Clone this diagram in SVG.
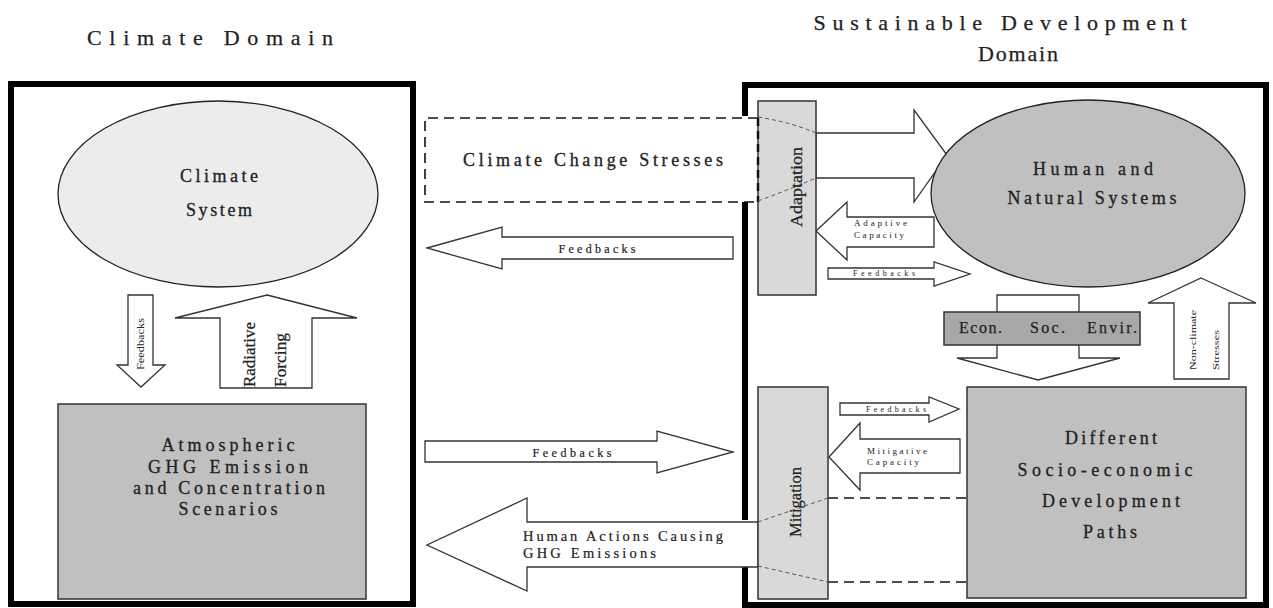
<svg xmlns="http://www.w3.org/2000/svg" width="1273" height="608" viewBox="0 0 1273 608">
<style>
text{font-family:"Liberation Serif","Times New Roman",serif;fill:#222}
.t22{font-size:22px;stroke:#222;stroke-width:0.25}.t18{font-size:18px;stroke:#222;stroke-width:0.3}.t16{font-size:16px;stroke:#222;stroke-width:0.25}.t14{font-size:14.5px;stroke:#222;stroke-width:0.2}.t12{font-size:12px;stroke:#222;stroke-width:0.2}.t11{font-size:11px}.t9{font-size:9px}.t8{font-size:8px}
.frame{fill:none;stroke:#000;stroke-width:6}
.arrow{fill:#fff;stroke:#333;stroke-width:1.3;stroke-linejoin:miter}
.box{stroke:#333;stroke-width:1.5}
.light{fill:#ececec}.mid{fill:#c0c0c0}.pale{fill:#d9d9d9}.dark{fill:#a8a8a8}
.dash{fill:none;stroke:#111;stroke-width:1.6;stroke-dasharray:10 6}
.gdash{fill:none;stroke:#555;stroke-width:1;stroke-dasharray:4 3}
</style>
<rect width="1273" height="608" fill="#fff"/>
<g id="titles">
<text class="t22" x="210" y="45" text-anchor="middle" textLength="246" lengthAdjust="spacing">Climate Domain</text>
<text class="t22" x="1000" y="30" text-anchor="middle" textLength="373" lengthAdjust="spacing">Sustainable Development</text>
<text class="t22" x="1018" y="61" text-anchor="middle" textLength="80" lengthAdjust="spacing">Domain</text>
</g>
<g id="climate-domain-frame">
<rect class="frame" x="11" y="84" width="402" height="520"/>
</g>
<g id="sd-domain-frame">
<path class="frame" d="M745,116 V85 H1266 V605 H745 V567 M745,520 V202"/>
</g>
<g id="connectors">
<polygon class="arrow" points="128,295 153,295 153,365 165,365 141,387 117,365 128,365"/>
<polygon class="arrow" points="267,295 357,318 312,318 312,388 220,388 220,318 175,318"/>
<polygon class="arrow" points="427,248 502,227 502,237 733,237 733,259 502,259 502,269"/>
<polygon class="arrow" points="425,441 657,441 657,431 733,452 657,473 657,462 425,462"/>
<polygon class="arrow" points="758,522 527,522 527,498 427,545 527,591 527,567 758,567"/>
<polygon class="arrow" points="816,133 914,133 914,110 947,155 914,202 914,178 816,178"/>
<polygon class="arrow" points="816,231 847,202 847,217 934,217 934,247 847,247 847,260"/>
<polygon class="arrow" points="828,268 934,268 934,262 970,274 934,286 934,279 828,279"/>
<polygon class="arrow" points="840,403 929,403 929,397 959,409 929,422 929,415 840,415"/>
<polygon class="arrow" points="829,457 860,423 860,439 960,439 960,473 860,473 860,490"/>
<polygon class="arrow" points="997,295 1079,295 1079,358 1120,358 1038,380 957,358 997,358"/>
<polygon class="arrow" points="1201,278 1256,303 1229,303 1229,379 1174,379 1174,303 1148,303"/>
<line class="dash" x1="828" y1="498" x2="967" y2="498"/>
<line class="dash" x1="828" y1="582" x2="967" y2="582"/>
</g>
<g id="climate-change-stresses">
<rect x="425" y="118" width="333" height="84" fill="#fff" stroke="none"/>
<path class="dash" d="M758,118 H425 V202 H758"/>
<text class="t18" x="463" y="166" textLength="260" lengthAdjust="spacing">Climate Change Stresses</text>
</g>
<g id="climate-system">
<ellipse class="light" cx="218" cy="194" rx="160" ry="93" stroke="#222" stroke-width="1.3"/>
<text class="t18" x="219" y="182" text-anchor="middle" textLength="78" lengthAdjust="spacing">Climate</text>
<text class="t18" x="219" y="216" text-anchor="middle" textLength="66" lengthAdjust="spacing">System</text>
</g>
<g id="atmospheric">
<rect class="box mid" x="58" y="404" width="308" height="195"/>
<text class="t18" x="228" y="451" text-anchor="middle" textLength="133" lengthAdjust="spacing">Atmospheric</text>
<text class="t18" x="228" y="473" text-anchor="middle" textLength="160" lengthAdjust="spacing">GHG Emission</text>
<text class="t18" x="229" y="494" text-anchor="middle" textLength="192" lengthAdjust="spacing">and Concentration</text>
<text class="t18" x="228" y="515" text-anchor="middle" textLength="99" lengthAdjust="spacing">Scenarios</text>
</g>
<g id="adaptation">
<rect class="box pale" x="758" y="101" width="58" height="194"/>
<line x1="758" y1="118" x2="758" y2="202" stroke="#111" stroke-width="2.5" stroke-dasharray="8 5"/>
<path class="gdash" d="M758,117 Q790,122 816,133 M758,201 Q788,190 816,178"/>
<text class="t16" transform="translate(802,187) rotate(-90)" text-anchor="middle" textLength="80" lengthAdjust="spacingAndGlyphs">Adaptation</text>
</g>
<g id="mitigation">
<rect class="box pale" x="758" y="387" width="70" height="212"/>
<path class="gdash" d="M758,522 L828,498 M758,566 L828,582"/>
<text class="t16" transform="translate(801,502) rotate(-90)" text-anchor="middle" textLength="70" lengthAdjust="spacingAndGlyphs">Mitigation</text>
</g>
<g id="human-natural-systems">
<ellipse class="mid" cx="1088" cy="193.5" rx="157" ry="93.5" stroke="#222" stroke-width="1.3"/>
<text class="t18" x="1093" y="175" text-anchor="middle" textLength="120" lengthAdjust="spacing">Human and</text>
<text class="t18" x="1092" y="204" text-anchor="middle" textLength="169" lengthAdjust="spacing">Natural Systems</text>
</g>
<g id="econ-soc-envir">
<rect class="box dark" x="944" y="312" width="196" height="33"/>
<text class="t16" x="959" y="333" textLength="43" lengthAdjust="spacing">Econ.</text>
<text class="t16" x="1030" y="333" textLength="35" lengthAdjust="spacing">Soc.</text>
<text class="t16" x="1087" y="333" textLength="50" lengthAdjust="spacing">Envir.</text>
</g>
<g id="socio-economic-paths">
<rect class="box mid" x="967" y="387" width="279" height="211"/>
<text class="t18" x="1111" y="444" text-anchor="middle" textLength="92" lengthAdjust="spacing">Different</text>
<text class="t18" x="1105" y="476" text-anchor="middle" textLength="175" lengthAdjust="spacing">Socio-economic</text>
<text class="t18" x="1111" y="507" text-anchor="middle" textLength="138" lengthAdjust="spacing">Development</text>
<text class="t18" x="1110" y="538" text-anchor="middle" textLength="54" lengthAdjust="spacing">Paths</text>
</g>
<g id="labels">
<text class="t11" transform="translate(144,370) rotate(-90)" textLength="52" lengthAdjust="spacingAndGlyphs">Feedbacks</text>
<text class="t16" transform="translate(255,387) rotate(-90)" textLength="65" lengthAdjust="spacingAndGlyphs">Radiative</text>
<text class="t16" transform="translate(286,387) rotate(-90)" textLength="54" lengthAdjust="spacingAndGlyphs">Forcing</text>
<text class="t12" x="597" y="253" text-anchor="middle" textLength="77" lengthAdjust="spacing">Feedbacks</text>
<text class="t12" x="572" y="457" text-anchor="middle" textLength="79" lengthAdjust="spacing">Feedbacks</text>
<text class="t14" x="523" y="541" textLength="200" lengthAdjust="spacing">Human Actions Causing</text>
<text class="t14" x="523" y="558" textLength="133" lengthAdjust="spacing">GHG Emissions</text>
<text class="t9" x="854" y="226" textLength="53" lengthAdjust="spacing">Adaptive</text>
<text class="t9" x="854" y="238" textLength="50" lengthAdjust="spacing">Capacity</text>
<text class="t8" x="884" y="276" text-anchor="middle" textLength="62" lengthAdjust="spacing">Feedbacks</text>
<text class="t8" x="896" y="412" text-anchor="middle" textLength="60" lengthAdjust="spacing">Feedbacks</text>
<text class="t9" x="867" y="454" textLength="60" lengthAdjust="spacing">Mitigative</text>
<text class="t9" x="867" y="465" textLength="52" lengthAdjust="spacing">Capacity</text>
<text class="t9" transform="translate(1196,370) rotate(-90)" textLength="60" lengthAdjust="spacingAndGlyphs">Non-climate</text>
<text class="t9" transform="translate(1219,370) rotate(-90)" textLength="40" lengthAdjust="spacingAndGlyphs">Stresses</text>
</g>
</svg>
